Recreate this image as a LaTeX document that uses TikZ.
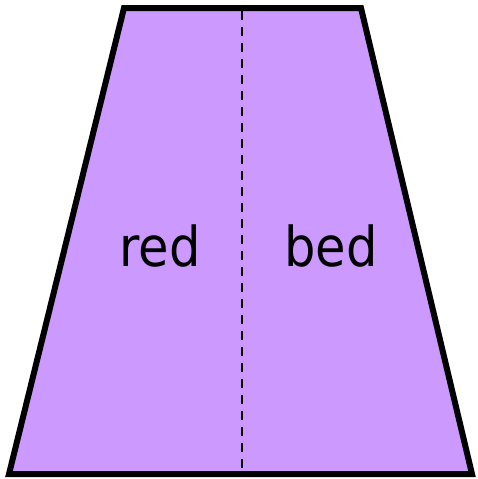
\documentclass[tikz,border=0pt]{standalone}
\usepackage{fontspec}
\setmainfont{DejaVu Sans Condensed}
\definecolor{lilac}{HTML}{CC99FF}
\begin{document}
\begin{tikzpicture}[x=1pt,y=-1pt,
  trapfill/.style={fill=lilac,draw=black,line width=6pt,line join=miter},
  divider/.style={draw=black,line width=2.5pt,dash pattern=on 9pt off 7pt},
  lbl/.style={font=\fontsize{55}{60}\selectfont,inner sep=0pt,anchor=base}]
\useasboundingbox (0,0) rectangle (477,479);
\coordinate (tl) at (124,8);
\coordinate (tr) at (361,8);
\coordinate (br) at (472,474);
\coordinate (bl) at (9,474);
\coordinate (dt) at (242,11);
\coordinate (db) at (242,471);
\path[trapfill] (tl) -- (tr) -- (br) -- (bl) -- cycle;
\draw[divider] (dt) -- (db);
\node[lbl] (red) at (160,266) {red};
\node[lbl] (bed) at (331,266) {bed};
\end{tikzpicture}
\end{document}
